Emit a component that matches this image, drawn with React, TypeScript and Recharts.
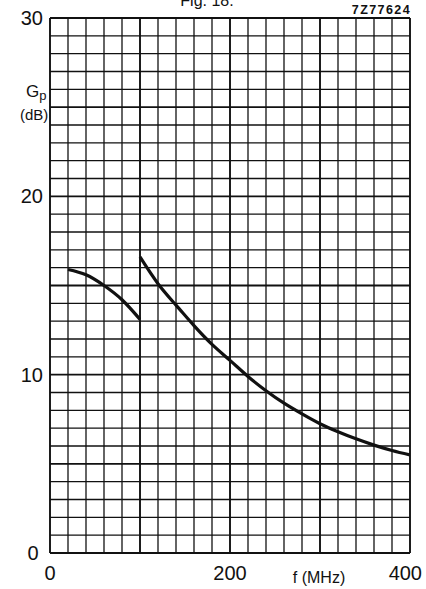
import React from "react";
import { LineChart, Line, XAxis, YAxis, ReferenceLine } from "recharts";

const lowBand = [
  { f: 20, g: 15.9 },
  { f: 40, g: 15.6 },
  { f: 60, g: 15.0 },
  { f: 80, g: 14.2 },
  { f: 100, g: 13.1 },
];

const highBand = [
  { f: 100, g: 16.6 },
  { f: 120, g: 15.1 },
  { f: 140, g: 13.9 },
  { f: 160, g: 12.75 },
  { f: 180, g: 11.7 },
  { f: 200, g: 10.8 },
  { f: 220, g: 9.9 },
  { f: 240, g: 9.1 },
  { f: 260, g: 8.4 },
  { f: 280, g: 7.8 },
  { f: 300, g: 7.25 },
  { f: 320, g: 6.8 },
  { f: 340, g: 6.4 },
  { f: 360, g: 6.05 },
  { f: 380, g: 5.75 },
  { f: 400, g: 5.5 },
];

const xTicks = [0, 200, 400];
const yTicks = [0, 10, 20, 30];
const xGrid = Array.from({ length: 21 }, (_, i) => i * 20);
const yGrid = Array.from({ length: 31 }, (_, i) => i);

const FONT = "'Liberation Sans', Arial, Helvetica, sans-serif";
const INK = "#111";

const XTick = (props: any) => {
  const { x, y, payload } = props;
  const v = payload.value;
  const anchor = v === 400 ? "end" : "middle";
  const dx = v === 400 ? 12 : 0;
  return (
    <text x={x + dx} y={y + 27} textAnchor={anchor} fontSize={20} fontFamily={FONT} fill={INK}>
      {v}
    </text>
  );
};

const YTick = (props: any) => {
  const { x, y, payload } = props;
  const v = payload.value;
  if (v === 0) {
    return (
      <text x={x - 17} y={y + 7} textAnchor="middle" fontSize={20} fontFamily={FONT} fill={INK}>
        {v}
      </text>
    );
  }
  return (
    <text x={x - 7} y={y + 7} textAnchor="end" fontSize={20} fontFamily={FONT} fill={INK}>
      {v}
    </text>
  );
};

export default function App() {
  return (
    <div style={{ position: "absolute", left: 0, top: 0, width: 426, height: 589, background: "#fff" }}>
      <LineChart
        width={426}
        height={589}
        margin={{ top: 18, right: 16, bottom: 0, left: 0 }}
      >
        <XAxis
          dataKey="f"
          type="number"
          domain={[0, 400]}
          ticks={xTicks}
          allowDataOverflow
          height={36}
          tickLine={false}
          axisLine={false}
          tickSize={0}
          tickMargin={0}
          tick={<XTick />}
        />
        <YAxis
          type="number"
          domain={[0, 30]}
          ticks={yTicks}
          allowDataOverflow
          width={50}
          tickLine={false}
          axisLine={false}
          tickSize={0}
          tickMargin={0}
          tick={<YTick />}
        />
        {xGrid.map((v) => (
          <ReferenceLine
            key={"x" + v}
            x={v}
            stroke={INK}
            strokeWidth={v % 100 === 0 ? 1.9 : 1.3}
            ifOverflow="visible"
          />
        ))}
        {yGrid.map((v) => (
          <ReferenceLine
            key={"y" + v}
            y={v}
            stroke={INK}
            strokeWidth={v % 5 === 0 ? 1.9 : 1.3}
            ifOverflow="visible"
          />
        ))}
        <Line
          data={lowBand}
          dataKey="g"
          type="natural"
          dot={false}
          stroke={INK}
          strokeWidth={3.2}
          isAnimationActive={false}
        />
        <Line
          data={highBand}
          dataKey="g"
          type="natural"
          dot={false}
          stroke={INK}
          strokeWidth={3.2}
          isAnimationActive={false}
        />
        <text x={207} y={6} textAnchor="middle" fontSize={16} fontFamily={FONT} fill={INK}>
          Fig. 18.
        </text>
        <text x={411} y={14} textAnchor="end" fontSize={12.5} fontWeight="bold" fontFamily={FONT} fill={INK} letterSpacing={1.4}>
          7Z77624
        </text>
        <text x={26} y={97} fontSize={17} fontFamily={FONT} fill={INK}>
          G
          <tspan fontSize={13} dy={3}>p</tspan>
        </text>
        <text x={20} y={120} fontSize={15} fontFamily={FONT} fill={INK}>
          (dB)
        </text>
        <text x={319} y={583} textAnchor="middle" fontSize={16} fontFamily={FONT} fill={INK}>
          f (MHz)
        </text>
      </LineChart>
    </div>
  );
}
